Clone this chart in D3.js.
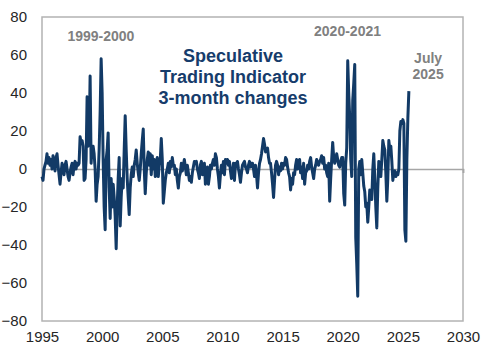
<!DOCTYPE html>
<html>
<head>
<meta charset="utf-8">
<script src="https://cdn.jsdelivr.net/npm/d3@7"></script>
<style>
  body { margin: 0; background: #fff; }
  #chart { width: 500px; height: 351px; }
</style>
</head>
<body>
<div id="chart"></div>
<script>
"use strict";

// monthly 3-month changes, Jan 1995 .. Jul 2025
var startYear = 1995;
var values = [
  -4, -6, 0, 2, 4, 8, 3, 6, 2, 5, 0, 7,            // 1995
  4, -1, 6, 8, 2, -3, -8, -2, 3, 1, -3, 2,         // 1996
  4, 0, -4, -6, -2, 1, 3, -3, 2, 4, 0, 3,          // 1997
  2, 3, 17, 14, 15, 12, -6, -5, 5, 38, 12, 14,     // 1998
  49, 3, 12, 12, 8, 0, -17, -8, -4, 10, 30, 58,    // 1999
  40, 5, -20, -32, 5, 10, 19, -10, -26, -5, -20, -8, // 2000
  -15, -25, -42, -20, -5, 6, -30, -15, -5, -10, 10, 28, // 2001
  10, -5, -15, -24, -10, -3, 1, -4, 2, 5, 10, 3,   // 2002
  -2, -6, 0, 8, 15, 21, 0, -13, -2, 5, 9, 2,       // 2003
  8, -3, 7, 0, 5, -4, 3, 6, -4, 2, 5, 16,          // 2004
  5, -18, -12, -6, -2, 0, 3, -2, 4, 1, 6, 2,       // 2005
  2, -3, 0, -6, -10, -4, -2, 3, -1, 2, 5, 1,       // 2006
  -3, 2, -2, -6, -4, -7, -2, 1, 4, 3, 4, 0,        // 2007
  -2, -5, 2, 4, -3, 1, 3, -8, -3, 1, -8, -4,       // 2008
  2, 0, 3, 5, 2, 8, 6, 0, -4, -10, -3, 2,          // 2009
  -2, 4, -3, 5, 3, 5, 2, 4, -1, -5, -2, 3,         // 2010
  -6, 3, 1, 4, 0, -3, -7, -2, 2, 3, 4, 1,          // 2011
  0, -2, 2, 4, 1, 3, 3, 0, -4, 2, -3, -10,         // 2012
  -2, 3, 5, 8, 12, 16, 13, 9, 10, 11, 6, 3,        // 2013
  3, -2, -8, -15, -6, 2, 4, 2, -3, 1, -1, 3,       // 2014
  0, 3, 2, 6, 5, 1, -2, -4, -11, -5, -8, -2,       // 2015
  -3, 2, 5, 0, 3, 5, -2, 1, -5, 3, -8, -2,         // 2016
  -1, 2, 0, 4, 6, 1, -2, -5, 0, 2, 5, 3,           // 2017
  2, 4, 5, 7, 3, 6, 0, 2, -2, -4, 3, -17,          // 2018
  -5, 5, 14, 6, 3, 5, 8, 5, 2, 1, 4, 6,            // 2019
  6, -13, -19, 3, 11, 57, 40, 27, 5, -4, 36, 45,   // 2020
  55, -36, -50, -67, 0, 4, -3, 5, -2, -9, -12, -20, // 2021
  -18, -28, -20, -11, -13, -16, 0, 8, -5, -20, -31, -10, // 2022
  4, 0, -4, 5, 15, 12, 10, -2, -17, -5, 15, 10,    // 2023
  12, 4, -6, -2, -1, -4, -2, -3, 0, 20, 25, 24,    // 2024
  26, 24, -32, -38, 5, 27, 41                      // 2025
];
var xTicks = [1995, 2000, 2005, 2010, 2015, 2020, 2025, 2030];
var yTicks = [-80, -60, -40, -20, 0, 20, 40, 60, 80];
var titleLines = ["Speculative", "Trading Indicator", "3-month changes"];
var notes = [
  { year: 1999.9, value: 67.5, lines: ["1999-2000"] },
  { year: 2020.4, value: 70, lines: ["2020-2021"] },
  { year: 2027.1, value: 56, lines: ["July", "2025"] }
];

var data = values.map(function (v, i) {
  return { t: startYear + i / 12, v: v };
});

var width = 500, height = 351;
var margin = { left: 42, top: 17, right: 37, bottom: 30 };

var x = d3.scaleLinear().domain([1995, 2030]).range([margin.left, width - margin.right]);
var y = d3.scaleLinear().domain([-80, 80]).range([height - margin.bottom, margin.top]);

var svg = d3.select("#chart").append("svg")
  .attr("width", width)
  .attr("height", height)
  .style("font-family", "'Liberation Sans', Arial, sans-serif");

// plot frame
svg.append("rect")
  .attr("x", x(1995)).attr("y", y(80))
  .attr("width", x(2030) - x(1995)).attr("height", y(-80) - y(80))
  .attr("fill", "none").attr("stroke", "#b3b3b3").attr("stroke-width", 1.5);

// y axis labels
svg.append("g")
  .attr("transform", "translate(" + (x(1995) - 15) + ",0)")
  .call(d3.axisLeft(y).tickValues(yTicks).tickSize(0).tickPadding(0))
  .call(function (g) { g.select(".domain").remove(); })
  .selectAll("text")
  .attr("font-size", 15).attr("fill", "#262626")
  .attr("font-family", "'Liberation Sans', Arial, sans-serif");

// x axis labels
svg.append("g")
  .attr("transform", "translate(0," + (y(-80) + 8) + ")")
  .call(d3.axisBottom(x).tickValues(xTicks).tickFormat(d3.format("d")).tickSize(0).tickPadding(2))
  .call(function (g) { g.select(".domain").remove(); })
  .selectAll("text")
  .attr("font-size", 15).attr("fill", "#262626")
  .attr("font-family", "'Liberation Sans', Arial, sans-serif");

// zero line with its ticks
svg.append("g")
  .attr("transform", "translate(0," + y(0) + ")")
  .call(d3.axisBottom(x).tickValues([2030]).tickSize(4).tickFormat(""))
  .call(function (g) {
    g.selectAll("line, path").attr("stroke", "#a6a6a6").attr("stroke-width", 1.5);
  });

var line = d3.line()
  .x(function (d) { return x(d.t); })
  .y(function (d) { return y(d.v); });

svg.append("path")
  .datum(data)
  .attr("d", line)
  .attr("fill", "none")
  .attr("stroke", "#123a66")
  .attr("stroke-width", 3)
  .attr("stroke-linejoin", "round");

// title
svg.append("text")
  .attr("x", 233).attr("y", 62)
  .attr("text-anchor", "middle")
  .attr("font-size", 18).attr("font-weight", "bold").attr("fill", "#163c6b")
  .selectAll("tspan")
  .data(titleLines)
  .enter()
  .append("tspan")
  .attr("x", 233)
  .attr("dy", function (d, i) { return i === 0 ? 0 : 21; })
  .text(function (d) { return d; });

// notes
notes.forEach(function (n) {
  svg.append("text")
    .attr("x", x(n.year)).attr("y", y(n.value))
    .attr("text-anchor", "middle")
    .attr("font-size", 14).attr("font-weight", "bold").attr("fill", "#808080")
    .selectAll("tspan")
    .data(n.lines)
    .enter()
    .append("tspan")
    .attr("x", x(n.year))
    .attr("dy", function (d, i) { return i === 0 ? 0 : 16; })
    .text(function (d) { return d; });
});
</script>
</body>
</html>
